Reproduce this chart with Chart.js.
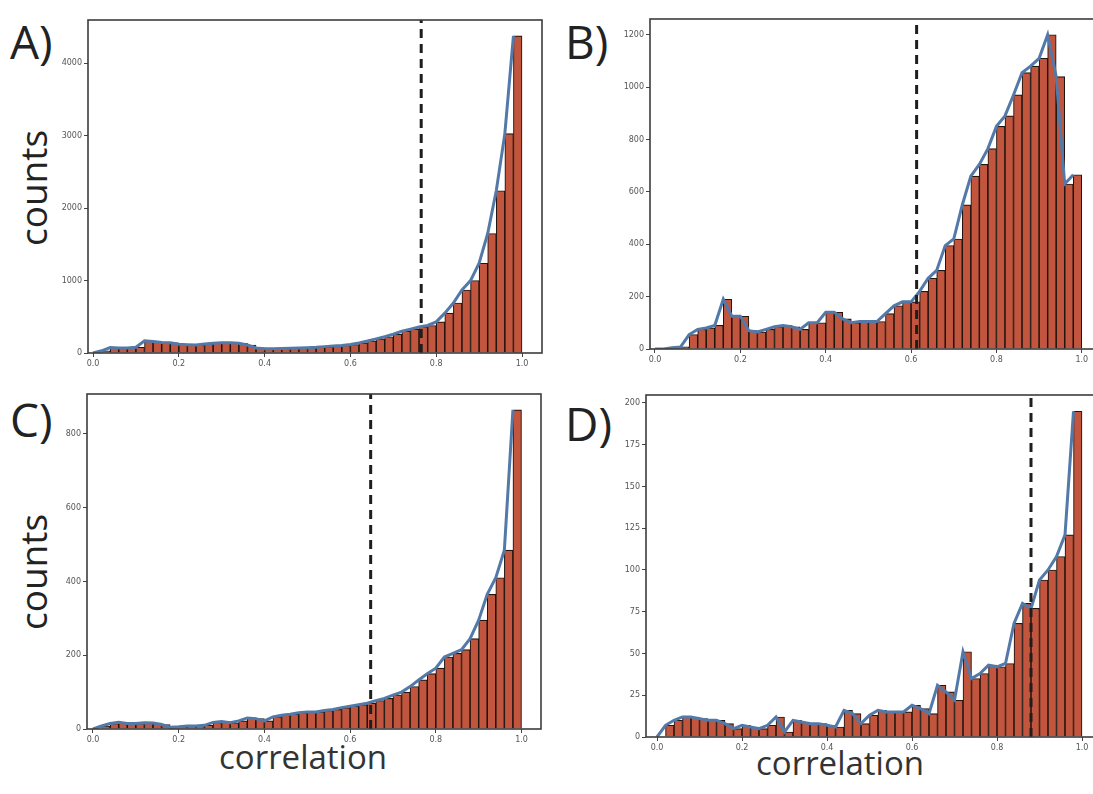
<!DOCTYPE html>
<html>
<head>
<meta charset="utf-8">
<script src="https://cdn.jsdelivr.net/npm/chart.js@4.4.1/dist/chart.umd.min.js"></script>
<style>
  body { margin: 0; width: 1093px; height: 794px; overflow: hidden; background: #fff; position: relative; font-family: "Open Sans", sans-serif; }
  .panel { position: absolute; }
  .tag { position: absolute; font-size: 46px; color: #222; line-height: 1; }
  .ylab { position: absolute; font-size: 37px; color: #222; line-height: 1; white-space: nowrap; transform: translate(-50%, -50%) rotate(-90deg); }
  .xlab { position: absolute; font-size: 33px; color: #333; line-height: 1; white-space: nowrap; transform: translateX(-50%); }
</style>
</head>
<body>

<div class="tag" style="left:10px; top:18px;">A)</div>
<div class="tag" style="left:565px; top:18px;">B)</div>
<div class="tag" style="left:10px; top:396px;">C)</div>
<div class="tag" style="left:565px; top:400px;">D)</div>
<div class="ylab" style="left:32px; top:188px;">counts</div>
<div class="ylab" style="left:32px; top:572px;">counts</div>
<div class="xlab" style="left:303px; top:740px;">correlation</div>
<div class="xlab" style="left:840px; top:746px;">correlation</div>

<div class="panel" id="wrapA"><canvas id="chartA"></canvas></div>
<div class="panel" id="wrapB"><canvas id="chartB"></canvas></div>
<div class="panel" id="wrapC"><canvas id="chartC"></canvas></div>
<div class="panel" id="wrapD"><canvas id="chartD"></canvas></div>

<script>
// histogram bin edges (correlation)
var binEdges = [0.00, 0.02, 0.04, 0.06, 0.08, 0.10, 0.12, 0.14, 0.16, 0.18,
  0.20, 0.22, 0.24, 0.26, 0.28, 0.30, 0.32, 0.34, 0.36, 0.38,
  0.40, 0.42, 0.44, 0.46, 0.48, 0.50, 0.52, 0.54, 0.56, 0.58,
  0.60, 0.62, 0.64, 0.66, 0.68, 0.70, 0.72, 0.74, 0.76, 0.78,
  0.80, 0.82, 0.84, 0.86, 0.88, 0.90, 0.92, 0.94, 0.96, 0.98, 1.00];

// counts per bin
var countsA = [0, 30, 75, 70, 70, 80, 170, 160, 145, 140,
  120, 115, 110, 125, 135, 140, 140, 135, 110, 70,
  60, 60, 62, 65, 68, 72, 78, 88, 98, 105,
  118, 140, 165, 195, 225, 260, 300, 330, 360, 380,
  430, 550, 690, 870, 1000, 1240, 1650, 2240, 3030, 4380];
var countsB = [0, 0, 5, 8, 55, 75, 80, 90, 190, 125,
  125, 70, 65, 75, 85, 90, 85, 75, 100, 100,
  140, 140, 115, 100, 105, 105, 105, 135, 165, 180,
  180, 220, 270, 300, 395, 420, 550, 660, 705, 765,
  850, 890, 970, 1055, 1080, 1110, 1200, 1040, 630, 665];
var countsC = [0, 8, 15, 18, 15, 15, 17, 16, 12, 5,
  6, 8, 8, 10, 18, 20, 17, 22, 30, 28,
  22, 33, 37, 40, 44, 46, 46, 50, 53, 58,
  62, 66, 70, 77, 83, 92, 100, 115, 133, 150,
  165, 195, 205, 215, 245, 295, 365, 410, 485, 865];
var countsD = [0, 7, 10, 12, 12, 11, 10, 10, 8, 5,
  7, 6, 5, 7, 12, 3, 10, 9, 8, 8,
  7, 6, 16, 14, 8, 13, 16, 15, 15, 15,
  19, 17, 14, 31, 27, 22, 51, 35, 38, 43,
  42, 44, 68, 80, 77, 94, 100, 108, 121, 195];

// dashed threshold lines
var cutA = 0.765, cutB = 0.613, cutC = 0.648, cutD = 0.88;

// tick labels
var xTicks = [0.0, 0.2, 0.4, 0.6, 0.8, 1.0];
var yTicksA = [0, 1000, 2000, 3000, 4000];
var yTicksB = [0, 200, 400, 600, 800, 1000, 1200];
var yTicksC = [0, 200, 400, 600, 800];
var yTicksD = [0, 25, 50, 75, 100, 125, 150, 175, 200];

var AXW = 44, AXH = 26, PAD = 8;

// draws the box around the plot area
var frame = {
  id: 'frame',
  afterDraw: function (chart) {
    var a = chart.chartArea, ctx = chart.ctx;
    ctx.save();
    ctx.strokeStyle = '#3c3c3c';
    ctx.lineWidth = 1.6;
    ctx.strokeRect(a.left, a.top, a.right - a.left, a.bottom - a.top);
    ctx.restore();
  }
};

function makePanel(name, counts, cut, yTicks, box, xMin, xMax) {
  var wrap = document.getElementById('wrap' + name);
  var w = box[2] - box[0] + AXW + PAD;
  var h = box[3] - box[1] + AXH + PAD;
  wrap.style.left = (box[0] - AXW) + 'px';
  wrap.style.top = (box[1] - PAD) + 'px';
  var cv = document.getElementById('chart' + name);
  cv.width = w;
  cv.height = h;

  var yMax = Math.max.apply(null, counts) * 1.05;
  var bars = [], line = [];
  for (var i = 0; i < counts.length; i++) {
    bars.push({ x: (binEdges[i] + binEdges[i + 1]) / 2, y: counts[i] });
    line.push({ x: binEdges[i], y: counts[i] });
  }

  new Chart(cv, {
    type: 'bar',
    data: {
      datasets: [{
        type: 'bar',
        data: bars,
        backgroundColor: '#c2553d',
        borderColor: '#22140f',
        borderWidth: 1.1,
        borderSkipped: 'bottom',
        barPercentage: 1,
        categoryPercentage: 1,
        order: 3
      }, {
        type: 'line',
        data: line,
        borderColor: '#5279a8',
        borderWidth: 3,
        pointRadius: 0,
        tension: 0,
        order: 2
      }, {
        type: 'line',
        data: [{ x: cut, y: 0 }, { x: cut, y: yMax }],
        borderColor: '#1e1e1e',
        borderWidth: 3,
        borderDash: [9, 6],
        pointRadius: 0,
        order: 1
      }]
    },
    options: {
      responsive: false,
      animation: false,
      layout: { padding: { top: PAD, right: PAD, left: 0, bottom: 0 } },
      plugins: { legend: { display: false }, tooltip: { enabled: false } },
      scales: {
        x: {
          type: 'linear',
          min: xMin,
          max: xMax,
          offset: false,
          grid: { offset: false, drawOnChartArea: false, tickLength: 4, color: '#444' },
          border: { display: false },
          afterBuildTicks: function (s) { s.ticks = xTicks.map(function (v) { return { value: v }; }); },
          afterFit: function (s) { s.height = AXH; },
          ticks: {
            autoSkip: false, maxRotation: 0, padding: 2,
            color: '#555', font: { family: 'DejaVu Sans', size: 8 },
            callback: function (v) { return Number(v).toFixed(1); }
          }
        },
        y: {
          min: 0,
          max: yMax,
          grid: { drawOnChartArea: false, tickLength: 4, color: '#444' },
          border: { display: false },
          afterBuildTicks: function (s) { s.ticks = yTicks.map(function (v) { return { value: v }; }); },
          afterFit: function (s) { s.width = AXW; },
          ticks: {
            autoSkip: false, padding: 2,
            color: '#555', font: { family: 'DejaVu Sans', size: 8 },
            callback: function (v) { return String(v); }
          }
        }
      }
    },
    plugins: [frame]
  });
}

makePanel('A', countsA, cutA, yTicksA, [88, 20, 542, 353], -0.0117, 1.0466);
makePanel('B', countsB, cutB, yTicksB, [650, 19, 1101, 349], -0.0117, 1.045);
makePanel('C', countsC, cutC, yTicksC, [87, 394, 541, 729], -0.014, 1.0455);
makePanel('D', countsD, cutD, yTicksD, [646, 395, 1101, 737], -0.0259, 1.0447);
</script>
</body>
</html>
